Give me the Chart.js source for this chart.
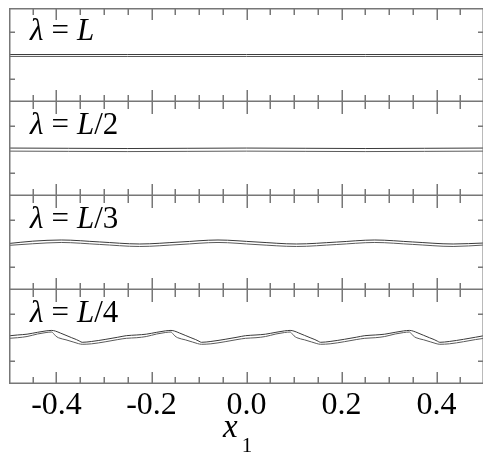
<!DOCTYPE html>
<html>
<head>
<meta charset="utf-8">
<script src="https://cdn.jsdelivr.net/npm/chart.js@4.4.0/dist/chart.umd.min.js"></script>
<style>
html, body { margin: 0; padding: 0; background: #fff; overflow: hidden; width: 483px; height: 462px; }
canvas { position: absolute; left: 4px; }
.lab { position: absolute; left: 30px; font: 31px 'Liberation Serif', serif; line-height: 30px; color: #000; white-space: nowrap; }
.lab .eq { margin: 0 8px; }
#xt { position: absolute; left: 223px; top: 410px; font: italic 33px 'Liberation Serif', serif; line-height: 33px; color: #000; }
#xt span { font-style: normal; font-size: 21px; position: relative; top: 15px; margin-left: 4px; }
</style>
</head>
<body>
<canvas id="p1" width="485" height="104" style="top:3px"></canvas>
<canvas id="p2" width="485" height="104" style="top:97px"></canvas>
<canvas id="p3" width="485" height="104" style="top:191px"></canvas>
<canvas id="p4" width="485" height="177" style="top:285px"></canvas>
<div id="labels"></div>
<div id="xt">x<span>1</span></div>
<script>
// axis ticks
var xMajorTicks = [-0.4, -0.2, 0.0, 0.2, 0.4];
var xMinorTicks = [-0.45, -0.35, -0.3, -0.25, -0.15, -0.1, -0.05, 0.05, 0.1, 0.15, 0.25, 0.3, 0.35, 0.45];
var xTickLabels = [-0.4, -0.2, 0.0, 0.2, 0.4];
var yTicks = [-5, 5];
var panelDenoms = ['', '/2', '/3', '/4'];

// lambda = L
var p1X      = [-0.5, -0.25, 0, 0.25, 0.5];
var p1Top    = [0.1, 0.1, 0.1, 0.1, 0.1];
var p1Bottom = [-0.3, -0.32, -0.32, -0.32, -0.3];

// lambda = L/2
var p2X      = [-0.5, -0.375, -0.25, -0.125, 0, 0.125, 0.25, 0.375, 0.5];
var p2Top    = [0.2, 0.15, 0.1, 0.15, 0.2, 0.15, 0.1, 0.15, 0.2];
var p2Bottom = [-0.45, -0.5, -0.55, -0.5, -0.45, -0.5, -0.55, -0.5, -0.45];

// lambda = L/3
var p3X      = [-0.5, -0.45, -0.39, -0.31, -0.225, -0.14, -0.06, 0.02, 0.105, 0.19, 0.27, 0.35, 0.435, 0.5];
var p3Top    = [-0.1, 0.39, 0.64, 0.23, -0.21, 0.21, 0.64, 0.22, -0.21, 0.2, 0.64, 0.22, -0.21, 0.0];
var p3Bottom = [-0.5, -0.16, 0.11, -0.3, -0.74, -0.32, 0.11, -0.33, -0.74, -0.32, 0.11, -0.3, -0.74, -0.43];

// lambda = L/4
var p4TopX = [-0.5, -0.482, -0.462, -0.44, -0.422, -0.41, -0.402, -0.392, -0.38, -0.368, -0.358, -0.351, -0.346,
              -0.326, -0.296, -0.271, -0.253, -0.231, -0.211, -0.189,
              -0.171, -0.159, -0.151, -0.141, -0.129, -0.117, -0.107, -0.1, -0.095,
              -0.075, -0.045, -0.02, -0.002, 0.02, 0.04, 0.062,
              0.08, 0.092, 0.1, 0.11, 0.122, 0.134, 0.144, 0.151, 0.156,
              0.176, 0.206, 0.231, 0.249, 0.271, 0.291, 0.313,
              0.331, 0.343, 0.351, 0.361, 0.373, 0.385, 0.395, 0.402, 0.407,
              0.427, 0.457, 0.482, 0.5];
var p4Top  = [0.25, 0.43, 0.6, 1.0, 1.3, 1.4, 1.25, 0.85, 0.35, -0.15, -0.55, -0.9, -1.13,
              -0.95, -0.49, -0.05, 0.28, 0.43, 0.6, 1.0,
              1.3, 1.4, 1.25, 0.85, 0.35, -0.15, -0.55, -0.9, -1.13,
              -0.95, -0.49, -0.05, 0.28, 0.43, 0.6, 1.0,
              1.3, 1.4, 1.25, 0.85, 0.35, -0.15, -0.55, -0.9, -1.13,
              -0.95, -0.49, -0.05, 0.28, 0.43, 0.6, 1.0,
              1.3, 1.4, 1.25, 0.85, 0.35, -0.15, -0.55, -0.9, -1.13,
              -0.95, -0.49, -0.05, 0.28];
var p4BottomX = [-0.5, -0.482, -0.462, -0.44, -0.422, -0.41, -0.406, -0.402, -0.396, -0.38, -0.365, -0.354, -0.346,
                 -0.326, -0.296, -0.271, -0.253, -0.231, -0.211, -0.189,
                 -0.171, -0.159, -0.155, -0.151, -0.145, -0.129, -0.114, -0.103, -0.095,
                 -0.075, -0.045, -0.02, -0.002, 0.02, 0.04, 0.062,
                 0.08, 0.092, 0.096, 0.1, 0.106, 0.122, 0.137, 0.148, 0.156,
                 0.176, 0.206, 0.231, 0.249, 0.271, 0.291, 0.313,
                 0.331, 0.343, 0.347, 0.351, 0.357, 0.373, 0.388, 0.399, 0.407,
                 0.427, 0.457, 0.482, 0.5];
var p4Bottom  = [-0.28, -0.15, 0.1, 0.64, 0.95, 1.06, 0.7, 0.25, -0.15, -0.6, -1.06, -1.4, -1.55,
                 -1.45, -1.0, -0.55, -0.28, -0.15, 0.1, 0.64,
                 0.95, 1.06, 0.7, 0.25, -0.15, -0.6, -1.06, -1.4, -1.55,
                 -1.45, -1.0, -0.55, -0.28, -0.15, 0.1, 0.64,
                 0.95, 1.06, 0.7, 0.25, -0.15, -0.6, -1.06, -1.4, -1.55,
                 -1.45, -1.0, -0.55, -0.28, -0.15, 0.1, 0.64,
                 0.95, 1.06, 0.7, 0.25, -0.15, -0.6, -1.06, -1.4, -1.55,
                 -1.45, -1.0, -0.55, -0.28];

function pts(xv, yv) {
	return xv.map(function(v, i){ return {x: v, y: yv[i]}; });
}

// box round each panel, ticks pointing inwards
var framePlugin = {
	id: 'frame',
	afterDraw: function(chart) {
		var ctx = chart.ctx, a = chart.chartArea;
		var sx = chart.scales.x, sy = chart.scales.y;
		var L = Math.round(a.left), R = Math.round(a.right);
		var T = Math.round(a.top), B = Math.round(a.bottom);
		ctx.save();
		ctx.fillStyle = '#777';
		// top edge only on the first panel, the others share the line above
		if (chart.canvas.id === 'p1') ctx.fillRect(L, T, R - L, 1.5);
		ctx.fillRect(L, B - 1.5, R - L, 1.5);
		ctx.fillRect(L, T, 1.5, B - T);
		ctx.fillRect(R - 1.5, T, 1.5, B - T);
		var i, px, py;
		for (i = 0; i < xMinorTicks.length; i++) {
			px = Math.round(sx.getPixelForValue(xMinorTicks[i]));
			ctx.fillRect(px - 0.5, T, 1.5, 7);
			ctx.fillRect(px - 0.5, B - 7, 1.5, 7);
		}
		for (i = 0; i < xMajorTicks.length; i++) {
			px = Math.round(sx.getPixelForValue(xMajorTicks[i]));
			ctx.fillRect(px - 0.5, T, 1.5, 12);
			ctx.fillRect(px - 0.5, B - 12, 1.5, 12);
		}
		for (i = 0; i < yTicks.length; i++) {
			py = Math.round(sy.getPixelForValue(yTicks[i]));
			ctx.fillRect(L, py - 0.5, 6, 1.5);
			ctx.fillRect(R - 6, py - 0.5, 6, 1.5);
		}
		ctx.restore();
	}
};

function makePanel(id, top, bottom, showX) {
	var xScale = { type: 'linear', min: -0.5, max: 0.5, display: false };
	if (showX) {
		xScale = {
			type: 'linear', min: -0.5, max: 0.5, display: true,
			grid: { display: false, drawTicks: false },
			border: { display: false },
			afterBuildTicks: function(s){ s.ticks = xTickLabels.map(function(v){ return {value: v}; }); },
			afterFit: function(s){ s.height = 40; },
			ticks: {
				padding: 2, maxRotation: 0, autoSkip: false, color: '#000',
				font: { family: 'Liberation Serif', size: 32 },
				callback: function(v){ return Number(v).toFixed(1); }
			}
		};
	}
	return new Chart(document.getElementById(id), {
		type: 'line',
		data: {
			datasets: [
				{ data: top, borderColor: '#3a3a3a', borderWidth: 1, pointRadius: 0, fill: false, cubicInterpolationMode: 'monotone' },
				{ data: bottom, borderColor: '#5a5a5a', borderWidth: 1, pointRadius: 0, fill: false, cubicInterpolationMode: 'monotone' }
			]
		},
		options: {
			responsive: false,
			animation: false,
			events: [],
			layout: { padding: { left: 5, right: 5, top: 5, bottom: showX ? 38 : 5 } },
			plugins: { legend: { display: false }, tooltip: { enabled: false } },
			scales: {
				x: xScale,
				y: { type: 'linear', min: -10, max: 10, display: false }
			}
		},
		plugins: [framePlugin]
	});
}

makePanel('p1', pts(p1X, p1Top), pts(p1X, p1Bottom), false);
makePanel('p2', pts(p2X, p2Top), pts(p2X, p2Bottom), false);
makePanel('p3', pts(p3X, p3Top), pts(p3X, p3Bottom), false);
makePanel('p4', pts(p4TopX, p4Top), pts(p4BottomX, p4Bottom), true);

// panel labels
var labTops = [15, 109, 203, 297];
var holder = document.getElementById('labels');
panelDenoms.forEach(function(d, i){
	var div = document.createElement('div');
	div.className = 'lab';
	div.style.top = labTops[i] + 'px';
	div.innerHTML = '<i>λ</i><span class="eq">=</span><i>L</i>' + d;
	holder.appendChild(div);
});
</script>
</body>
</html>
